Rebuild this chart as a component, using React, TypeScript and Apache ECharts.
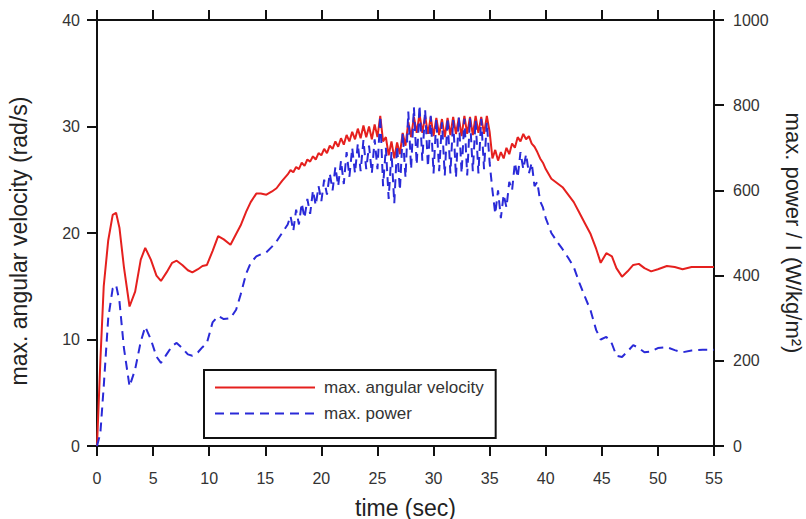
import React, { useEffect, useRef } from "react";
import * as echarts from "echarts";

// time (s)
const times = [
  0, 0.3, 0.6, 1.0, 1.4, 1.7, 2.0, 2.4, 2.9, 3.4, 3.9, 4.3, 4.8, 5.3, 5.7, 6.2, 6.7, 7.1, 7.6, 8.1,
  8.5, 9.0, 9.4, 9.8, 10.3, 10.8, 11.3, 11.9, 12.4, 12.8, 13.3, 13.7, 14.2, 14.6, 15.1, 15.6, 16.0, 16.5, 17.0,
  17.25, 17.5, 17.75, 18.0, 18.25, 18.5, 18.75, 19.0, 19.25, 19.5, 19.75, 20.0, 20.25, 20.5, 20.75, 21.0,
  21.25, 21.5, 21.75, 22.0, 22.25, 22.5, 22.75, 23.0, 23.25, 23.5, 23.75, 24.0, 24.25, 24.5, 24.75, 25.0,
  25.25, 25.5, 25.75, 26.0, 26.25, 26.5, 26.75, 27.0, 27.25, 27.5, 27.75, 28.0, 28.25, 28.5, 28.75, 29.0,
  29.25, 29.5, 29.75, 30.0, 30.25, 30.5, 30.75, 31.0, 31.25, 31.5, 31.75, 32.0, 32.25, 32.5, 32.75, 33.0,
  33.25, 33.5, 33.75, 34.0, 34.25, 34.5, 34.75, 35.0, 35.25, 35.5, 35.75, 36.0, 36.25, 36.5, 36.75, 37.0,
  37.25, 37.5, 37.75, 38.0, 38.25, 38.5, 38.75, 39.0, 39.25, 39.5, 39.75, 40.0,
  40.5, 41.0, 41.5, 42.0, 42.5, 43.0, 43.5, 44.0, 44.5, 44.9, 45.4, 45.9, 46.3, 46.8, 47.3, 47.8, 48.3,
  48.8, 49.4, 50.0, 50.8, 51.5, 52.2, 53.0, 54.0, 55.0,
];

// max. angular velocity (rad/s)
const angularVelocity = [
  0, 8, 15, 19.3, 21.7, 21.9, 20.5, 16.8, 13.1, 14.5, 17.5, 18.6, 17.5, 16.0, 15.5, 16.3, 17.2, 17.4, 17.0, 16.5,
  16.3, 16.6, 16.9, 17.0, 18.3, 19.7, 19.4, 18.9, 19.9, 20.7, 22.0, 22.9, 23.7, 23.7, 23.6, 23.9, 24.2, 24.9, 25.5,
  25.9, 25.7, 26.2, 26.0, 26.6, 26.3, 26.9, 26.7, 27.2, 26.9, 27.5, 27.3, 27.9, 27.5, 28.2, 27.9,
  28.6, 28.1, 28.9, 28.3, 29.2, 28.6, 29.5, 28.8, 29.8, 28.9, 30.1, 29.0, 30.0, 28.8, 30.2, 29.0,
  31.0, 28.6, 29.0, 27.3, 28.6, 27.0, 28.5, 27.4, 29.4, 28.2, 30.4, 29.0, 30.9, 29.4, 31.2, 29.4,
  31.0, 29.3, 30.9, 29.1, 30.8, 29.2, 30.7, 29.0, 30.8, 29.2, 30.9, 29.3, 30.8, 29.1, 31.0, 29.3,
  30.9, 29.2, 31.0, 29.4, 30.9, 29.3, 31.0, 29.5, 27.0, 27.8, 26.8, 27.6, 27.0, 28.0, 27.4, 28.4,
  28.0, 29.0, 28.6, 29.3, 28.8, 29.1, 28.4, 28.1, 27.6, 27.0, 26.6, 26.0,
  25.1, 24.7, 24.3, 23.6, 22.9, 21.9, 20.9, 19.9, 18.5, 17.2, 18.1, 17.8, 16.7, 15.9, 16.4, 17.0, 17.1,
  16.7, 16.4, 16.6, 16.9, 16.8, 16.6, 16.8, 16.8, 16.8,
];

// max. power / I (W/kg/m²)
const power = [
  0, 30, 140, 300, 370, 378, 340, 230, 140, 180, 245, 280, 250, 210, 195, 215, 235, 242, 230, 215,
  212, 220, 232, 242, 290, 305, 298, 300, 320, 355, 405, 430, 445, 450, 455, 468, 480, 500, 520,
  540, 505, 555, 520, 570, 535, 580, 545, 600, 565, 610, 575, 625, 590, 640, 600,
  655, 610, 670, 615, 690, 632, 700, 640, 710, 645, 718, 650, 705, 640, 720, 650,
  775, 610, 700, 580, 690, 570, 705, 600, 735, 630, 785, 650, 795, 660, 800, 670,
  790, 655, 775, 640, 768, 645, 760, 635, 770, 640, 765, 630, 772, 640, 768, 635,
  770, 645, 765, 640, 768, 650, 760, 665, 600, 545, 600, 535, 590, 560, 620, 600,
  665, 630, 690, 650, 685, 640, 665, 610, 620, 575, 560, 535,
  500, 480, 462, 442, 420, 383, 350, 318, 272, 250, 256, 240, 212, 209, 222, 237, 230,
  220, 222, 230, 232, 225, 220, 224, 226, 226,
];

const xTicks = { min: 0, max: 55, interval: 5 };
const leftTicks = { min: 0, max: 40, interval: 10 };
const rightTicks = { min: 0, max: 1000, interval: 200 };

const FONT = "'Liberation Sans', Arial, sans-serif";
const AX = "#111";

export default function App() {
  const ref = useRef<HTMLDivElement>(null);
  useEffect(() => {
    if (!ref.current) return;
    document.body.style.margin = "0";
    document.body.style.overflow = "hidden";
    const chart = echarts.init(ref.current, undefined, { renderer: "svg" });
    const lineAxis = { show: true, onZero: false, lineStyle: { color: AX, width: 2 } };
    const tick = { show: true, inside: false, length: 10, lineStyle: { color: AX, width: 2 } };
    const label = { fontSize: 16, color: "#333", fontFamily: FONT };
    const nameStyle = { fontSize: 22, color: "#222", fontFamily: FONT };
    chart.setOption({
      animation: false,
      backgroundColor: "#fff",
      grid: {
        left: 97,
        right: 92,
        top: 20,
        bottom: 73,
        containLabel: false,
        outerBoundsMode: "none",
      },
      legend: {
        left: 204,
        top: 370,
        orient: "vertical",
        itemWidth: 100,
        itemHeight: 14,
        itemGap: 9,
        padding: [9, 12, 16, 10],
        borderColor: AX,
        borderWidth: 2,
        borderRadius: 0,
        itemStyle: { opacity: 0 },
        textStyle: { fontSize: 17, color: "#333", fontFamily: FONT, padding: [0, 0, 0, 4] },
        data: ["max. angular velocity", "max. power"],
      },
      xAxis: [
        {
          type: "value",
          position: "bottom",
          ...xTicks,
          axisLine: lineAxis,
          axisTick: tick,
          axisLabel: { ...label, margin: 24 },
          splitLine: { show: false },
          name: "time (sec)",
          nameLocation: "middle",
          nameGap: 50,
          nameTextStyle: { ...nameStyle, fontSize: 23 },
        },
        {
          type: "value",
          position: "top",
          ...xTicks,
          axisLine: lineAxis,
          axisTick: tick,
          axisLabel: { show: false },
          splitLine: { show: false },
        },
      ],
      yAxis: [
        {
          type: "value",
          position: "left",
          ...leftTicks,
          axisLine: lineAxis,
          axisTick: tick,
          axisLabel: { ...label, margin: 17 },
          splitLine: { show: false },
          name: "max. angular velocity (rad/s)",
          nameLocation: "middle",
          nameRotate: 90,
          nameGap: 67,
          nameTextStyle: { ...nameStyle, fontSize: 23, padding: [0, 16, 0, 0] },
        },
        {
          type: "value",
          position: "right",
          ...rightTicks,
          axisLine: lineAxis,
          axisTick: tick,
          axisLabel: { ...label, margin: 19, formatter: (v: number) => String(v) },
          splitLine: { show: false },
          name: "max. power / I (W/kg/m²)",
          nameLocation: "middle",
          nameRotate: -90,
          nameGap: 68,
          nameTextStyle: nameStyle,
        },
      ],
      series: [
        {
          name: "max. angular velocity",
          type: "line",
          xAxisIndex: 0,
          yAxisIndex: 0,
          symbol: "none",
          lineStyle: { color: "#e5201e", width: 2 },
          itemStyle: { color: "#e5201e" },
          data: times.map((t, i) => [t, angularVelocity[i]]),
          z: 2,
        },
        {
          name: "max. power",
          type: "line",
          xAxisIndex: 0,
          yAxisIndex: 1,
          symbol: "none",
          lineStyle: { color: "#2a2ad8", width: 2, type: [9, 6] },
          itemStyle: { color: "#2a2ad8" },
          data: times.map((t, i) => [t, power[i]]),
          z: 3,
        },
      ],
    });
    return () => chart.dispose();
  }, []);
  return (
    <div
      ref={ref}
      style={{ position: "fixed", left: 0, top: 0, width: 806, height: 519 }}
    />
  );
}
